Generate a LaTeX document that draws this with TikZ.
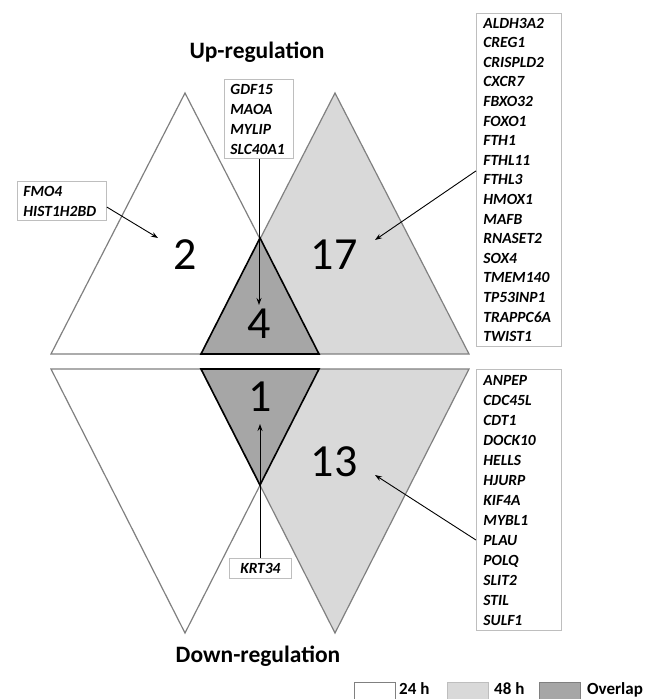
\documentclass[tikz,border=0pt]{standalone}
\usepackage{fontspec}
\setmainfont{Carlito}
\usetikzlibrary{arrows.meta}
\definecolor{lgray}{RGB}{217,217,217}
\definecolor{dgray}{RGB}{166,166,166}
\definecolor{tline}{RGB}{128,128,128}
\definecolor{bline}{RGB}{190,190,190}
\tikzset{
  tri/.style={draw=tline, line width=1.2pt, line join=miter},
  ovl/.style={draw=black, line width=1.6pt, fill=dgray, line join=miter},
  genebox/.style={draw=bline, line width=0.9pt, align=left, inner xsep=6pt, inner ysep=4.5pt,
     font=\bfseries\itshape\fontsize{15.5}{20}\selectfont},
  num/.style={font=\fontsize{46}{46}\selectfont, inner sep=0pt},
  title/.style={font=\bfseries\fontsize{23.5}{28}\selectfont, inner sep=0pt},
  legtxt/.style={font=\bfseries\fontsize{17}{20}\selectfont, inner sep=0pt, anchor=base west},
  arr/.style={-{Stealth[length=7pt,width=5pt]}, line width=0.9pt, black},
}
\begin{document}
\begin{tikzpicture}[x=1pt,y=-1pt]
\useasboundingbox (0,0) rectangle (649,699);
\clip (0,0) rectangle (649,699);
\fill[white] (0,0) rectangle (649,699);
% up-regulation triangles
\draw[tri, fill=white] (185,93) -- (51,354) -- (319,354) -- cycle;
\draw[tri, fill=lgray] (335,93) -- (201,354) -- (469,354) -- cycle;
\draw[ovl] (260,238) -- (201,354) -- (319,354) -- cycle;
% down-regulation triangles
\draw[tri, fill=white] (51,369) -- (319,369) -- (185,633) -- cycle;
\draw[tri, fill=lgray] (201,369) -- (469,369) -- (335,633) -- cycle;
\draw[ovl] (201,369) -- (319,369) -- (260,485) -- cycle;
% numbers
\node[num] (n2) at (185,255) {2};
\node[num] (n17) at (334,255) {17};
\node[num] (n4) at (259,324) {4};
\node[num] (n1) at (260,397) {1};
\node[num] (n13) at (334,462) {13};
% titles
\node[title, anchor=base] (up) at (257,58) {Up-regulation};
\node[title, anchor=base] (down) at (258,662) {Down-regulation};
% gene boxes
\node[genebox, anchor=north west, text width=57pt] (gdf) at (224,79) {GDF15\\MAOA\\MYLIP\\SLC40A1};
\node[genebox, anchor=north west, text width=77pt] (fmo) at (17,181) {FMO4\\HIST1H2BD};
\node[genebox, anchor=north west, text width=71pt, inner xsep=7pt, font=\bfseries\itshape\fontsize{15.5}{19.6}\selectfont] (g17) at (476,13) {ALDH3A2\\CREG1\\CRISPLD2\\CXCR7\\FBXO32\\FOXO1\\FTH1\\FTHL11\\FTHL3\\HMOX1\\MAFB\\RNASET2\\SOX4\\TMEM140\\TP53INP1\\TRAPPC6A\\TWIST1};
\node[genebox, anchor=north west, text width=71pt, inner xsep=7pt, inner ysep=5.5pt] (g13) at (476,369) {ANPEP\\CDC45L\\CDT1\\DOCK10\\HELLS\\HJURP\\KIF4A\\MYBL1\\PLAU\\POLQ\\SLIT2\\STIL\\SULF1};
\node[genebox, anchor=north west, align=center, minimum width=62pt, minimum height=20pt, inner sep=0pt] (krt) at (229,558) {KRT34};
% arrow targets
\coordinate (t2) at (158,238);
\coordinate (t4) at (259,305);
\coordinate (t17) at (375,240);
\coordinate (t13) at (375,475);
\coordinate (t1) at (260,424);
% arrows
\draw[arr] ([yshift=-6pt]fmo.east) -- (t2);
\draw[arr] (gdf.south -| t4) -- (t4);
\draw[arr] ([yshift=9pt]g17.west) -- (t17);
\draw[arr] ([yshift=-40pt]g13.west) -- (t13);
\draw[arr] (krt.north -| t1) -- (t1);
% legend
\draw[draw=tline, line width=1pt, fill=white] (354,682) rectangle (395,712);
\node[legtxt] (l24) at (399,694) {24 h};
\draw[draw=bline, line width=1pt, fill=lgray] (447,682) rectangle (488,712);
\node[legtxt] (l48) at (494,694) {48 h};
\draw[draw=tline, line width=1pt, fill=dgray] (539,682) rectangle (580,712);
\node[legtxt] (lov) at (587,694) {Overlap};
\end{tikzpicture}
\end{document}
